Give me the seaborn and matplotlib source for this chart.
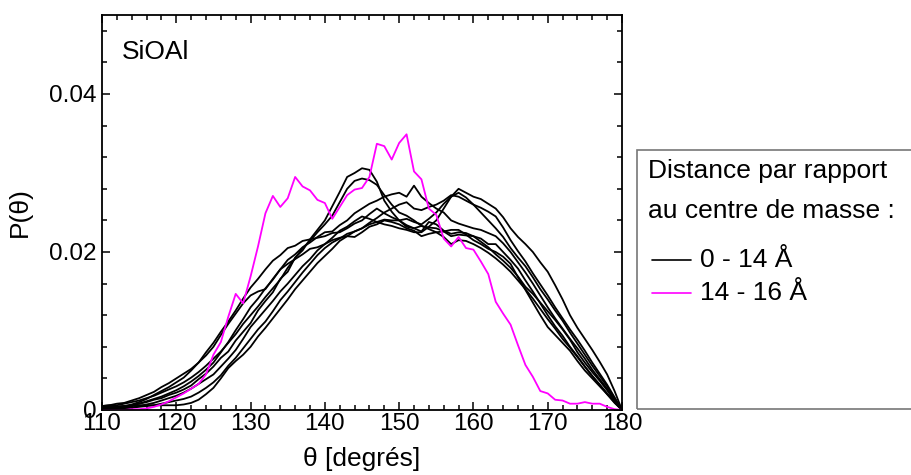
import numpy as np
import pandas as pd
import matplotlib
matplotlib.use("Agg")
import matplotlib.pyplot as plt
from matplotlib.lines import Line2D
from matplotlib.patches import Rectangle
from matplotlib.ticker import MultipleLocator
import seaborn as sns

# ─────────────────────────────────────────────
# Data  (P(theta), in units of 1e-3)
# ─────────────────────────────────────────────

theta = list(range(110, 181))

core_1 = [0.3, 0.2, 0.4, 0.5, 0.6, 0.8, 1.0, 1.3, 1.5, 1.9,
          2.2, 2.6, 3.1, 3.9, 4.6, 5.5, 6.6, 7.4, 8.8, 9.9,
          11.0, 12.6, 13.8, 14.9, 16.6, 17.5, 19.3, 20.2, 21.6, 22.8,
          24.0, 25.8, 27.6, 29.5, 30.0, 30.6, 30.4, 28.9, 26.5, 25.1,
          24.0, 23.2, 23.0, 22.6, 23.8, 23.5, 22.7, 22.3, 22.5, 22.4,
          22.0, 21.3, 20.6, 19.7, 18.9, 18.0, 16.9, 15.6, 14.7, 13.6,
          12.5, 11.4, 10.2, 8.9, 7.3, 6.0, 4.8, 3.7, 2.5, 1.2, 0.0]
core_2 = [0.5, 0.6, 0.6, 0.8, 1.0, 1.2, 1.5, 1.8, 2.2, 2.6,
          3.0, 3.5, 4.1, 4.8, 5.6, 6.5, 7.4, 8.5, 9.6, 10.9,
          12.0, 13.1, 14.3, 15.4, 16.5, 18.0, 19.2, 20.5, 21.4, 22.5,
          23.5, 24.6, 26.3, 28.0, 29.0, 29.3, 29.1, 28.5, 27.2, 26.0,
          25.0, 24.6, 24.0, 23.3, 22.9, 22.5, 21.9, 21.0, 21.5, 21.4,
          21.0, 20.5, 19.9, 19.2, 18.4, 17.5, 16.4, 15.3, 14.1, 12.8,
          11.5, 10.3, 9.0, 7.9, 6.7, 5.5, 4.3, 3.2, 2.1, 1.0, 0.0]
core_3 = [0.2, 0.2, 0.3, 0.4, 0.6, 0.8, 1.1, 1.4, 1.7, 2.1,
          2.5, 3.0, 3.6, 4.3, 5.1, 6.0, 7.3, 8.6, 10.1, 11.5,
          13.0, 14.1, 15.4, 16.5, 17.8, 19.0, 19.7, 20.6, 21.2, 21.9,
          22.5, 22.6, 23.4, 24.0, 24.9, 25.5, 26.1, 26.5, 27.0, 27.3,
          27.5, 27.0, 28.4, 27.0, 26.2, 25.5, 25.0, 24.0, 23.6, 23.3,
          23.0, 22.8, 22.4, 22.0, 21.1, 20.0, 18.7, 17.4, 16.0, 14.5,
          13.0, 11.6, 10.3, 9.0, 7.8, 6.5, 5.1, 3.9, 2.7, 1.3, 0.0]
core_4 = [0.4, 0.4, 0.4, 0.5, 0.5, 0.6, 0.6, 0.6, 0.6, 0.6,
          0.6, 0.7, 0.9, 1.3, 2.0, 2.8, 4.0, 5.3, 6.2, 7.0,
          8.0, 9.3, 10.4, 11.6, 12.8, 14.0, 15.3, 16.4, 17.5, 18.6,
          19.5, 20.4, 21.4, 22.0, 22.6, 23.0, 23.5, 23.8, 24.1, 24.0,
          24.0, 24.2, 23.8, 23.5, 24.2, 25.0, 26.1, 27.0, 28.0, 27.5,
          27.0, 26.7, 26.1, 25.5, 24.4, 23.0, 21.9, 21.0, 20.0, 18.7,
          17.5, 15.8, 14.0, 12.0, 10.4, 9.0, 7.6, 6.1, 4.5, 2.4, 0.0]
core_5 = [0.1, 0.1, 0.2, 0.2, 0.3, 0.5, 0.7, 0.9, 1.2, 1.5,
          1.8, 2.2, 2.7, 3.3, 3.9, 4.5, 5.5, 6.5, 7.6, 9.0,
          10.5, 11.6, 12.7, 13.8, 15.0, 16.0, 17.1, 18.2, 19.1, 20.2,
          21.0, 21.8, 22.7, 23.2, 23.9, 24.5, 24.2, 23.8, 23.5, 23.3,
          23.0, 22.8, 22.5, 22.5, 23.2, 24.0, 25.5, 27.0, 27.5, 26.9,
          26.0, 25.6, 25.1, 24.5, 23.1, 21.5, 20.1, 18.8, 17.3, 15.9,
          14.5, 13.0, 11.6, 10.2, 8.9, 7.5, 6.0, 4.6, 3.2, 1.6, 0.0]
core_6 = [0.2, 0.2, 0.2, 0.3, 0.3, 0.4, 0.5, 0.6, 0.8, 1.0,
          1.2, 1.4, 1.7, 2.2, 2.8, 3.5, 4.4, 5.6, 6.6, 7.8,
          9.0, 10.2, 11.2, 12.5, 13.9, 15.0, 16.2, 17.4, 18.5, 19.6,
          20.5, 21.2, 21.7, 22.3, 22.6, 23.0, 23.7, 24.3, 25.0, 25.5,
          26.0, 26.3, 25.5, 25.3, 25.7, 26.0, 26.5, 27.2, 27.0, 26.5,
          26.0, 25.0, 24.0, 23.0, 21.9, 20.5, 19.3, 18.2, 16.8, 15.3,
          14.0, 12.6, 11.3, 9.8, 8.4, 7.0, 5.6, 4.3, 3.0, 1.5, 0.0]
core_7 = [0.3, 0.3, 0.4, 0.5, 0.7, 1.0, 1.4, 1.9, 2.4, 2.9,
          3.5, 4.1, 5.0, 6.0, 7.3, 8.5, 9.9, 11.2, 12.6, 14.1,
          15.5, 16.6, 17.8, 18.9, 19.6, 20.5, 20.8, 21.4, 21.6, 21.8,
          22.0, 22.4, 22.5, 23.0, 23.6, 24.0, 24.8, 25.5, 24.9, 24.4,
          24.0, 23.4, 23.0, 23.3, 23.1, 23.0, 22.6, 22.0, 22.2, 22.1,
          22.0, 21.7, 21.0, 21.0, 20.0, 19.0, 17.9, 16.4, 15.0, 13.5,
          12.0, 10.6, 9.4, 8.0, 6.8, 5.5, 4.3, 3.2, 2.0, 1.0, 0.0]
core_8 = [0.5, 0.6, 0.8, 0.9, 1.2, 1.5, 1.9, 2.3, 2.9, 3.4,
          4.0, 4.6, 5.2, 6.0, 6.9, 8.0, 9.5, 10.9, 12.2, 13.5,
          14.5, 15.0, 15.3, 16.6, 17.8, 18.5, 19.1, 19.7, 20.4, 20.6,
          21.0, 21.5, 21.8, 22.0, 21.9, 22.5, 23.2, 23.5, 24.0, 23.8,
          23.5, 23.0, 22.7, 22.0, 22.3, 22.5, 22.6, 22.8, 22.8, 22.2,
          21.5, 21.0, 20.4, 20.0, 19.4, 18.5, 16.8, 15.2, 13.6, 12.0,
          10.5, 9.5, 8.5, 7.5, 6.2, 5.0, 4.0, 3.0, 2.0, 0.9, 0.0]
shell = [0.0, 0.0, 0.0, 0.0, 0.1, 0.1, 0.2, 0.4, 0.7, 1.1,
         1.6, 2.1, 2.7, 3.3, 4.5, 7.0, 8.6, 11.8, 14.7, 13.5,
         16.9, 20.7, 24.9, 27.1, 25.7, 26.8, 29.5, 28.3, 27.8, 26.6,
         26.2, 24.2, 25.7, 27.2, 27.9, 28.1, 29.5, 33.7, 33.4, 31.7,
         33.8, 34.9, 30.2, 29.2, 25.5, 24.7, 21.7, 20.7, 21.9, 20.5,
         20.3, 18.8, 17.2, 13.7, 12.2, 10.8, 8.2, 5.7, 4.2, 2.4,
         2.1, 1.3, 1.2, 0.8, 0.8, 1.0, 0.8, 0.8, 0.4, 0.1, 0.0]

core_curves = [core_1, core_2, core_3, core_4, core_5, core_6, core_7, core_8]
group_labels = ["0 - 14 Å", "14 - 16 Å"]
group_colors = {"0 - 14 Å": "black", "14 - 16 Å": "#ff00ff"}

# long table for seaborn: one unit per curve
rows = []
for i, vals in enumerate(core_curves):
    for t, v in zip(theta, vals):
        rows.append((t, v / 1000.0, f"c{i}", group_labels[0]))
for t, v in zip(theta, shell):
    rows.append((t, v / 1000.0, "shell", group_labels[1]))
df = pd.DataFrame(rows, columns=["theta", "p", "curve", "group"])

# ─────────────────────────────────────────────
# Plot
# ─────────────────────────────────────────────

sns.set_style("ticks")
plt.rcParams["font.family"] = ["Liberation Sans", "DejaVu Sans"]
plt.rcParams["font.size"] = 17
plt.rcParams["text.color"] = "black"
plt.rcParams["axes.labelcolor"] = "black"

TXT = 19  # words in the original run wider than the digits

fig = plt.figure(figsize=(9.11, 4.75), dpi=100)
ax = fig.add_axes([102 / 911, 65 / 475, 520 / 911, 395 / 475])

sns.lineplot(data=df, x="theta", y="p", units="curve", hue="group",
             estimator=None, palette=group_colors, linewidth=1.3,
             legend=False, ax=ax)

ax.set_xlim(110, 180)
ax.set_ylim(0, 0.05)
ax.xaxis.set_major_locator(MultipleLocator(10))
ax.xaxis.set_minor_locator(MultipleLocator(2))
ax.set_yticks([0, 0.02, 0.04])
ax.set_yticklabels(["0", "0.02", "0.04"])
ax.yaxis.set_minor_locator(MultipleLocator(0.004))
ax.tick_params(which="both", direction="in", top=True, right=True,
               width=1.1, colors="black", labelcolor="black", labelsize=17.5)
ax.tick_params(which="major", length=6)
ax.tick_params(which="minor", length=3.5)
ax.tick_params(axis="x", pad=2)
ax.tick_params(axis="y", pad=4)
for sp in ax.spines.values():
    sp.set_linewidth(1.3)
    sp.set_color("black")

ax.set_xlabel("θ [degrés]", fontsize=TXT, labelpad=9)
ax.set_ylabel("P(θ)", fontsize=TXT, labelpad=12)
ax.text(0.038, 0.889, "SiOAl", transform=ax.transAxes, fontsize=TXT,
        va="baseline", ha="left")

# legend panel drawn by hand, it runs off the right edge
fig.add_artist(Rectangle((637 / 911, 66 / 475), 0.4, 259 / 475,
                         transform=fig.transFigure, fill=False,
                         edgecolor="#777777", linewidth=1.2))
fig.text(648 / 911, 1 - 178 / 475, "Distance par rapport", fontsize=TXT,
         va="baseline")
fig.text(648 / 911, 1 - 218 / 475, "au centre de masse :", fontsize=TXT,
         va="baseline")
for lab, ypx in zip(group_labels, [260, 293]):
    yf = 1 - ypx / 475
    fig.add_artist(Line2D([652 / 911, 691 / 911], [yf, yf],
                          transform=fig.transFigure,
                          color=group_colors[lab], linewidth=1.2))
    fig.text(700 / 911, yf, lab, fontsize=TXT, va="center")

fig.savefig("out.png", dpi=100)
